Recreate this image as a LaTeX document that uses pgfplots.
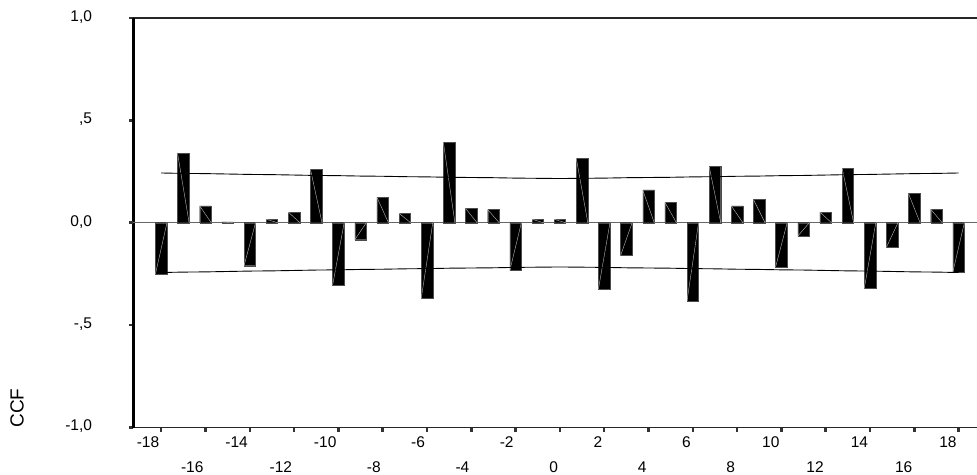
\documentclass[border=0pt]{standalone}
\usepackage{pgfplots}
\pgfplotsset{compat=1.18}
\usepackage{pgfplotstable}
\usepackage{fontspec}
\setmainfont{Liberation Sans}
\pgfplotstableread{
lag ccf
-18 -0.251
-17 0.339
-16 0.082
-15 0.004
-14 -0.210
-13 0.017
-12 0.052
-11 0.261
-10 -0.305
-9 -0.083
-8 0.124
-7 0.046
-6 -0.370
-5 0.393
-4 0.070
-3 0.064
-2 -0.233
-1 0.017
0 0.017
1 0.315
2 -0.324
3 -0.160
4 0.160
5 0.100
6 -0.381
7 0.274
8 0.082
9 0.113
10 -0.215
11 -0.065
12 0.052
13 0.267
14 -0.321
15 -0.120
16 0.142
17 0.066
18 -0.240
}\ccfdata
\pgfplotstableread{
lag up lo
-18 0.243 -0.243
-17 0.241 -0.241
-16 0.240 -0.240
-15 0.238 -0.238
-14 0.236 -0.236
-13 0.235 -0.235
-12 0.233 -0.233
-11 0.231 -0.231
-10 0.230 -0.230
-9 0.228 -0.228
-8 0.227 -0.227
-7 0.225 -0.225
-6 0.224 -0.224
-5 0.222 -0.222
-4 0.221 -0.221
-3 0.220 -0.220
-2 0.218 -0.218
-1 0.217 -0.217
0 0.216 -0.216
1 0.217 -0.217
2 0.218 -0.218
3 0.220 -0.220
4 0.221 -0.221
5 0.222 -0.222
6 0.224 -0.224
7 0.225 -0.225
8 0.227 -0.227
9 0.228 -0.228
10 0.230 -0.230
11 0.231 -0.231
12 0.233 -0.233
13 0.235 -0.235
14 0.236 -0.236
15 0.238 -0.238
16 0.240 -0.240
17 0.241 -0.241
18 0.243 -0.243
}\banddata
\begin{document}
\begin{tikzpicture}
\useasboundingbox (-133.5bp,-47.5bp) rectangle (843.5bp,427.5bp);
\begin{axis}[
  scale only axis, width=843.5bp, height=409.5bp,
  at={(0,0)}, anchor=south west,
  xmin=-19.25, xmax=18.83, ymin=-1, ymax=1,
  axis x line=box, axis y line=left,
  axis line style={-},
  x axis line style={line width=1.5bp, black!85},
  y axis line style={line width=3bp, black},
  tick pos=left,
  tick align=outside,
  major tick length=4bp,
  tick style={line width=2.5bp, black!80},
  tick label style={font=\fontsize{15.5bp}{17bp}\selectfont},
  xtick={-18,-14,-10,-6,-2,2,6,10,14,18},
  xticklabels={-18,-14,-10,-6,-2,2,6,10,14,18},
  xticklabel style={anchor=north east, xshift=1.5bp, yshift=-2bp},
  extra x ticks={-16,-12,-8,-4,0,4,8,12,16},
  extra x tick labels={-16,-12,-8,-4,0,4,8,12,16},
  extra x tick style={x tick label style={yshift=-25bp}},
  ytick={-1,-0.5,0,0.5,1},
  yticklabels={{-1,0\hspace{13.3bp}},{-,5\hspace{5bp}},{0,0\hspace{8.3bp}},{,5},{1,0\hspace{8.3bp}}},
  yticklabel style={anchor=east, xshift=-34bp, yshift=1bp},
  extra y ticks={0},
  extra y tick labels={},
  extra y tick style={grid=major, major grid style={black!60, line width=1bp}},
  ylabel={CCF},
  ylabel style={at={(rel axis cs:-0.1381,0.0476)}, anchor=center, font=\fontsize{19bp}{21bp}\selectfont},
]
\addplot[ybar, bar width=11.5bp, fill=black, draw=black!70, line width=0.4bp] table[x=lag, y=ccf] {\ccfdata};
\addplot[gray!55, line width=0.4bp, quiver={u=0.52, v=-\thisrow{ccf}}] table[x expr=\thisrow{lag}-0.26, y=ccf] {\ccfdata};
\addplot[black, line width=0.9bp] table[x=lag, y=up] {\banddata};
\addplot[black, line width=0.9bp] table[x=lag, y=lo] {\banddata};
\end{axis}
\end{tikzpicture}
\end{document}
